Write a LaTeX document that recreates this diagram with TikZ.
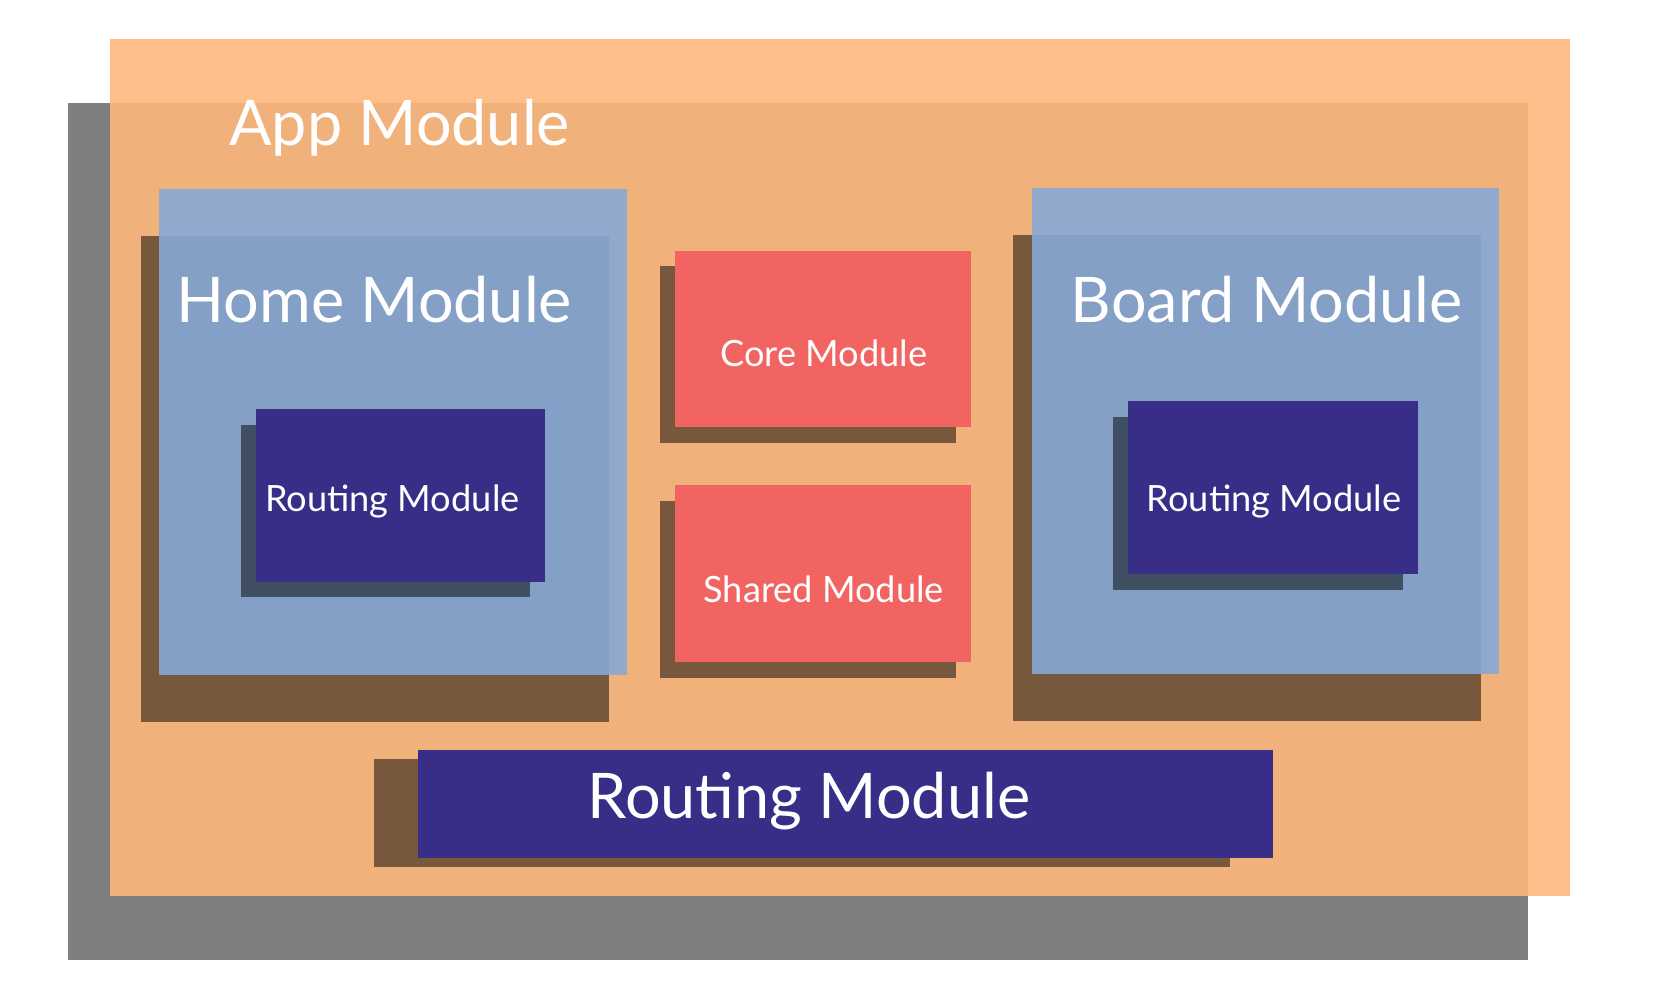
\documentclass[tikz,border=0pt]{standalone}
\usepackage{fontspec}
\setmainfont{Lato}
\definecolor{appfill}{RGB}{254,183,124}
\definecolor{modfill}{RGB}{134,169,215}
\definecolor{corefill}{RGB}{241,100,98}
\definecolor{routefill}{RGB}{56,45,135}
\begin{document}
\begin{tikzpicture}[x=0.3008pt,y=-0.3008pt,
    dropshadow/.style={fill=black,fill opacity=0.5},
    appbox/.style={fill=appfill,fill opacity=0.9},
    modbox/.style={fill=modfill,fill opacity=0.9},
    corebox/.style={fill=corefill},
    routebox/.style={fill=routefill},
    bigtext/.style={text=white,font=\fontsize{17.9}{20}\selectfont,anchor=base,inner sep=0pt},
    smalltext/.style={text=white,font=\fontsize{10.3}{12}\selectfont,anchor=base,inner sep=0pt}]
  \useasboundingbox (0,0) rectangle (1568,946);
  \fill[dropshadow] (64,97) rectangle (1445,908);
  \fill[appbox] (104,37) rectangle (1485,847);
  \node[bigtext] (app) at (378,138) {App Module};
  \fill[dropshadow] (133,223) rectangle (576,683);
  \fill[modbox] (150,179) rectangle (593,638);
  \node[bigtext] (home) at (354,305) {Home Module};
  \fill[dropshadow] (228,402) rectangle (501,565);
  \fill[routebox] (242,387) rectangle (515,550);
  \node[smalltext] (homerouting) at (371,484) {Routing Module};
  \fill[dropshadow] (624,252) rectangle (904,419);
  \fill[corebox] (638,237) rectangle (918,404);
  \node[smalltext] (core) at (779,347) {Core Module};
  \fill[dropshadow] (624,474) rectangle (904,641);
  \fill[corebox] (638,459) rectangle (918,626);
  \node[smalltext] (shared) at (779,570) {Shared Module};
  \fill[dropshadow] (958,222) rectangle (1401,682);
  \fill[modbox] (976,178) rectangle (1418,637);
  \node[bigtext] (board) at (1198,305) {Board Module};
  \fill[dropshadow] (1053,394) rectangle (1327,558);
  \fill[routebox] (1067,379) rectangle (1341,543);
  \node[smalltext] (boardrouting) at (1205,484) {Routing Module};
  \fill[dropshadow] (354,718) rectangle (1163,820);
  \fill[routebox] (395,709) rectangle (1204,811);
  \node[bigtext] (approuting) at (765,774) {Routing Module};
\end{tikzpicture}
\end{document}
